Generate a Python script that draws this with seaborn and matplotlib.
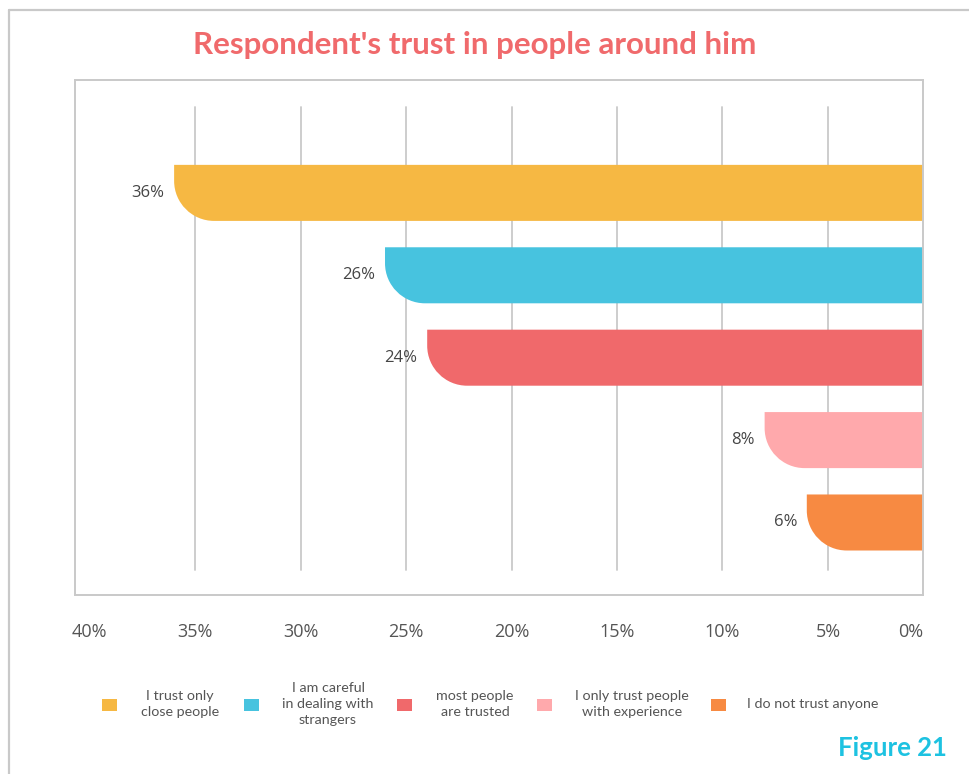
import matplotlib
matplotlib.use("Agg")
import matplotlib.pyplot as plt
from matplotlib.path import Path
from matplotlib.patches import PathPatch, Rectangle
from matplotlib.lines import Line2D
import matplotlib.transforms as mtransforms
import seaborn as sns
import pandas as pd

# ---- data ----
categories = [
    "I trust only close people",
    "I am careful in dealing with strangers",
    "most people are trusted",
    "I only trust people with experience",
    "I do not trust anyone",
]
legend_labels = [
    "I trust only\nclose people",
    "I am careful\nin dealing with\nstrangers",
    "most people\nare trusted",
    "I only trust people\nwith experience",
    "I do not trust anyone",
]
shares = [36, 26, 24, 8, 6]
tick_values = [40, 35, 30, 25, 20, 15, 10, 5, 0]
tick_labels = ["40%", "35%", "30%", "25%", "20%", "15%", "10%", "5%", "0%"]
colors = ["#F6B843", "#47C3DF", "#F0696B", "#FFA9AC", "#F78A42"]

title = "Respondent's trust in people around him"
figure_tag = "Figure 21"

sns.set_style("white")
plt.rcParams["font.family"] = ["Open Sans", "DejaVu Sans"]

W, H = 969, 774
fig = plt.figure(figsize=(W / 100, H / 100), dpi=100)
ax = fig.add_axes([75 / W, 1 - 595 / H, 848 / W, 515 / H])

df = pd.DataFrame({"category": categories, "share": shares})
sns.barplot(data=df, x="share", y="category", hue="category",
            palette=colors, saturation=1, orient="h", width=0.68,
            legend=False, ax=ax, zorder=2)

ax.set_xlim(40.7, 0.49)
ax.set_ylim(4.88, -1.37)
ax.set_xlabel("")
ax.set_ylabel("")
ax.set_xticks([])
ax.set_yticks([])

grid_c = "#C9C9C9"
for s in ax.spines.values():
    s.set_color(grid_c)
    s.set_linewidth(1.4)
    s.set_visible(True)

# vertical guide lines
for v in tick_values:
    if 0 < v < 40:
        ax.axvline(v, ymin=25 / 515, ymax=488 / 515, color=grid_c,
                   lw=1.3, zorder=0)

# bars with a rounded lower-left corner
px_per_x = 848 / (40.7 - 0.49)
px_per_y = 515 / (4.88 + 1.37)
rx = 40 / px_per_x
ry = 40 / px_per_y
k = 0.5523
for patch in list(ax.patches):
    w = patch.get_width()
    if w == 0:
        continue
    y0 = patch.get_y()
    h = patch.get_height()
    yt, yb = y0, y0 + h  # yb is the visual bottom (inverted y)
    x0, x1 = patch.get_x(), patch.get_x() + w
    verts = [
        (x0, yt), (x1, yt), (x1, yb - ry),
        (x1, yb - ry + k * ry), (x1 - rx + k * rx, yb), (x1 - rx, yb),
        (x0, yb), (x0, yt),
    ]
    codes = [Path.MOVETO, Path.LINETO, Path.LINETO,
             Path.CURVE4, Path.CURVE4, Path.CURVE4,
             Path.LINETO, Path.CLOSEPOLY]
    pp = PathPatch(Path(verts, codes), facecolor=patch.get_facecolor(),
                   edgecolor="none", zorder=2)
    ax.add_patch(pp)
    patch.set_visible(False)
    ax.annotate(f"{w:.0f}%", xy=(x1, y0 + h / 2), xytext=(-7, 0),
                textcoords="offset points", ha="right", va="center",
                fontsize=12, color="#454545")

# x tick labels below the box
trans = mtransforms.blended_transform_factory(ax.transData, ax.transAxes)
for v, lab in zip(tick_values, tick_labels):
    if v == 0:
        ax.text(0.49, -37 / 515, lab, transform=trans, ha="right",
                va="center", fontsize=13, color="#555555", clip_on=False)
    else:
        ax.text(v, -37 / 515, lab, transform=trans, ha="center",
                va="center", fontsize=13, color="#555555", clip_on=False)

# title
fig.text(475 / W, 1 - 45 / H, title, ha="center", va="center",
         fontsize=22.6, fontweight="bold", color="#F06A6C",
         family=["Lato", "DejaVu Sans"])

# legend
sq_x = [102, 244, 397, 537, 711]
txt_x = [180, 328, 475, 632, 813]
leg_y = 704
for i, lab in enumerate(legend_labels):
    fig.add_artist(Rectangle((sq_x[i] / W, 1 - (leg_y + 7) / H),
                             15 / W, 12 / H, transform=fig.transFigure,
                             facecolor=colors[i], edgecolor="none"))
    fig.text(txt_x[i] / W, 1 - leg_y / H, lab, ha="center", va="center",
             multialignment="center", fontsize=10.3, color="#555555",
             linespacing=1.35, family=["Lato", "DejaVu Sans"])

# figure tag
fig.text(947 / W, 1 - 748 / H, figure_tag, ha="right", va="center",
         fontsize=18.5, fontweight="bold", color="#1DC2E1",
         family=["Lato", "DejaVu Sans"])

# outer frame
fig.add_artist(Line2D([9 / W, 1], [1 - 10 / H, 1 - 10 / H],
                      transform=fig.transFigure, color=grid_c, lw=1.6))
fig.add_artist(Line2D([9 / W, 9 / W], [0, 1 - 10 / H],
                      transform=fig.transFigure, color=grid_c, lw=1.6))

fig.savefig("out.png", dpi=100, facecolor="white")
